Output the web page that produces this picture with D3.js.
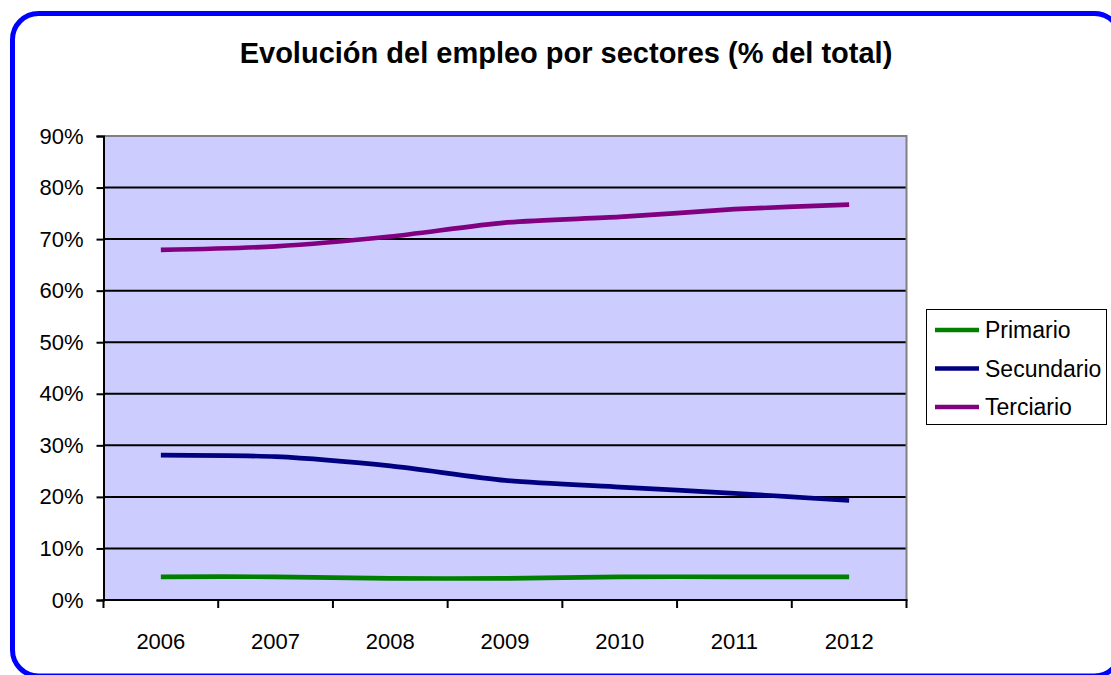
<!DOCTYPE html>
<html>
<head>
<meta charset="utf-8">
<script src="https://cdn.jsdelivr.net/npm/d3@7"></script>
<style>
  html, body { margin: 0; padding: 0; background: #fff; }
  svg { display: block; font-family: "Liberation Sans", Arial, sans-serif; }
</style>
</head>
<body>
<svg id="chart" width="1111" height="675"></svg>
<script>
// Employment share by sector (% of total)
const years = ["2006", "2007", "2008", "2009", "2010", "2011", "2012"];
const primario   = [4.5, 4.5, 4.2, 4.2, 4.5, 4.5, 4.5];
const secundario = [28.1, 27.8, 26.0, 23.2, 21.9, 20.7, 19.3];
const terciario  = [67.9, 68.6, 70.5, 73.2, 74.3, 75.8, 76.7];
const seriesNames = ["Primario", "Secundario", "Terciario"];
const seriesColors = ["#008000", "#000080", "#800080"];
const yTicks = [0, 10, 20, 30, 40, 50, 60, 70, 80, 90];

const series = [primario, secundario, terciario].map((values, i) => ({
  name: seriesNames[i], color: seriesColors[i], values
}));

const svg = d3.select("#chart");
const plot = { left: 103.5, right: 906.5, top: 136, bottom: 600 };

// Outer rounded frame (runs past the right and bottom edges)
svg.append("rect")
  .attr("x", 12.5).attr("y", 13.5)
  .attr("width", 1108).attr("height", 662.5)
  .attr("rx", 26).attr("ry", 26)
  .attr("fill", "#fff")
  .attr("stroke", "#0000ff").attr("stroke-width", 5);

// Title
svg.append("text")
  .attr("x", 566).attr("y", 63)
  .attr("text-anchor", "middle")
  .attr("font-size", 29).attr("font-weight", "bold")
  .attr("fill", "#000")
  .text("Evolución del empleo por sectores (% del total)");

const x = d3.scaleBand().domain(years).range([plot.left, plot.right]).padding(0);
const y = d3.scaleLinear().domain([0, 90]).range([plot.bottom, plot.top]);
const cx = d => x(d) + x.bandwidth() / 2;

// Plot background
svg.append("rect")
  .attr("x", plot.left).attr("y", plot.top)
  .attr("width", plot.right - plot.left).attr("height", plot.bottom - plot.top)
  .attr("fill", "#ccccff");

// Horizontal gridlines
svg.append("g").selectAll("line")
  .data(yTicks.filter(t => t > 0 && t < 90))
  .join("line")
  .attr("x1", plot.left).attr("x2", plot.right)
  .attr("y1", d => y(d)).attr("y2", d => y(d))
  .attr("stroke", "#000").attr("stroke-width", 2);

// Top and right plot borders
svg.append("path")
  .attr("d", `M${plot.left},${plot.top}H${plot.right}V${plot.bottom}`)
  .attr("fill", "none").attr("stroke", "#808080").attr("stroke-width", 2);

// Y axis
const yAxis = svg.append("g")
  .attr("transform", `translate(${plot.left},0)`)
  .call(d3.axisLeft(y).tickValues(yTicks).tickFormat(d => d + "%").tickSize(7).tickPadding(13));
yAxis.select(".domain").attr("stroke", "#000").attr("stroke-width", 2);
yAxis.selectAll(".tick line").attr("stroke", "#000").attr("stroke-width", 2);
yAxis.selectAll(".tick text")
  .attr("font-family", "Liberation Sans, Arial, sans-serif")
  .attr("font-size", 22).attr("fill", "#000");

// X axis: labels at category centres, ticks at category boundaries
const xAxis = svg.append("g")
  .attr("transform", `translate(0,${plot.bottom})`)
  .call(d3.axisBottom(x).tickSize(0).tickPadding(33));
xAxis.select(".domain").remove();
xAxis.selectAll(".tick text")
  .attr("font-family", "Liberation Sans, Arial, sans-serif")
  .attr("font-size", 22).attr("fill", "#000");

svg.append("line")
  .attr("x1", plot.left - 1).attr("x2", plot.right + 1)
  .attr("y1", plot.bottom).attr("y2", plot.bottom)
  .attr("stroke", "#000").attr("stroke-width", 2);

const boundaries = years.map(d => x(d)).concat([x.range()[1]]);
svg.append("g").selectAll("line")
  .data(boundaries)
  .join("line")
  .attr("x1", d => d).attr("x2", d => d)
  .attr("y1", plot.bottom).attr("y2", plot.bottom + 8)
  .attr("stroke", "#000").attr("stroke-width", 2);

// Series lines (smoothed)
const line = d3.line()
  .x((d, i) => cx(years[i]))
  .y(d => y(d))
  .curve(d3.curveCardinal.tension(0.3));

svg.append("g").selectAll("path")
  .data(series)
  .join("path")
  .attr("d", d => line(d.values))
  .attr("fill", "none")
  .attr("stroke", d => d.color)
  .attr("stroke-width", 4.7)
  .attr("stroke-linecap", "butt")
  .attr("stroke-linejoin", "round");

// Legend
const legend = svg.append("g");
legend.append("rect")
  .attr("x", 926.5).attr("y", 309.5)
  .attr("width", 180).attr("height", 115)
  .attr("fill", "#fff").attr("stroke", "#000").attr("stroke-width", 1);

const legendY = [330, 368.5, 407];
const items = legend.selectAll("g.item")
  .data(series)
  .join("g")
  .attr("class", "item")
  .attr("transform", (d, i) => `translate(0,${legendY[i]})`);
items.append("line")
  .attr("x1", 935).attr("x2", 979)
  .attr("y1", 0).attr("y2", 0)
  .attr("stroke", d => d.color).attr("stroke-width", 4.7);
items.append("text")
  .attr("x", 985).attr("y", 0).attr("dy", "0.35em")
  .attr("font-size", 23).attr("fill", "#000")
  .text(d => d.name);
</script>
</body>
</html>
